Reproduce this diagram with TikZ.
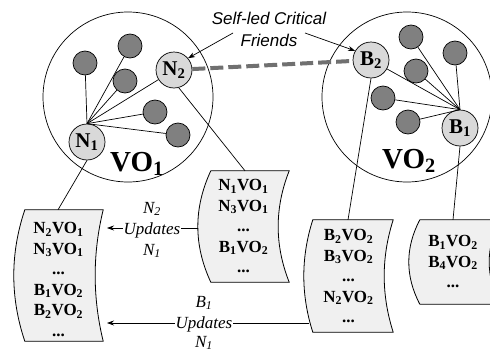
\documentclass[tikz,border=0pt]{standalone}
\usepackage{fontspec}
\setmainfont{Liberation Serif}
\newfontfamily\lsans{Liberation Sans}
\usetikzlibrary{arrows.meta,calc}
\definecolor{nodefill}{HTML}{D9D9D9}
\definecolor{dotfill}{HTML}{808080}
\definecolor{tblfill}{HTML}{F0F0F0}
\definecolor{dashcol}{HTML}{707070}
\newcommand\tblshape[3]{%
 \filldraw[tblline] (#1.north west) -- (#1.north east)
  .. controls ($(#1.north east)!0.333!(#1.south east)+(-#3,0)$) and ($(#1.north east)!0.667!(#1.south east)+(-#3,0)$) .. (#1.south east)
  -- (#1.south west)
  .. controls ($(#1.north west)!0.667!(#1.south west)+(-#2,0)$) and ($(#1.north west)!0.333!(#1.south west)+(-#2,0)$) .. (#1.north west) -- cycle;}
\tikzset{
 vocircle/.style={circle, draw, line width=0.7pt, minimum size=170pt, inner sep=0},
 peer/.style={circle, draw, line width=0.7pt, fill=nodefill, minimum size=36pt, inner sep=0, font=\fontsize{21}{21}\selectfont\bfseries},
 member/.style={circle, draw, line width=0.7pt, fill=dotfill, minimum size=24pt, inner sep=0},
 tie/.style={line width=0.7pt},
 tblline/.style={draw=black, fill=tblfill, line width=0.8pt},
 tbl/.style={draw=none, minimum width=78pt, inner sep=0},
 tbltxt/.style={anchor=north, inner sep=0, align=center, font=\fontsize{17}{20.6}\selectfont\bfseries},
 volbl/.style={anchor=base, inner sep=0, font=\fontsize{29}{29}\selectfont\bfseries},
 itl/.style={anchor=base, inner sep=1pt, fill=white, font=\fontsize{17}{17}\selectfont\itshape},
 arr/.style={line width=0.7pt, -{Stealth[length=7pt,width=5pt]}},
 friend/.style={draw=dashcol, line width=4pt, dash pattern=on 13pt off 5pt},
}
\begin{document}
\begin{tikzpicture}[x=1pt,y=-1pt]
\useasboundingbox (0,0) rectangle (490,351);
\fill[white] (0,0) rectangle (490,351);
% VO circles
\node[vocircle] (C1) at (128,97) {};
\node[vocircle] (C2) at (407,97) {};
% VO1 members
\node[member] (d1) at (85,63) {};
\node[member] (d2) at (130,46) {};
\node[member] (d3) at (125,81) {};
\node[member] (d4) at (155,112) {};
\node[member] (d5) at (178,135) {};
\node[peer] (N1) at (87,142) {N\textsubscript{1}};
\node[peer] (N2) at (174,70) {N\textsubscript{2}};
\foreach \d in {d1,d2,d3,d4,d5} \draw[tie] (N1.north) -- (\d);
\draw[tie] (N1.north) -- (N2);
% VO2 members
\node[member] (e1) at (411,37) {};
\node[member] (e2) at (455,53) {};
\node[member] (e3) at (416,71) {};
\node[member] (e4) at (383,98) {};
\node[member] (e5) at (408,122) {};
\node[peer] (B2) at (371,60) {B\textsubscript{2}};
\node[peer] (B1) at (460,128) {B\textsubscript{1}};
\foreach \d in {e1,e2,e3,e4,e5} \draw[tie] (B1.north) -- (\d);
\draw[tie] (B1.north) -- (B2);
% VO labels
\node[volbl] (L1) at (137,171) {VO\textsubscript{1}};
\node[volbl] (L2) at (409,168) {VO\textsubscript{2}};
% critical friends
\draw[friend] (N2) -- (B2);
\node[anchor=north, inner sep=0, align=center, font=\lsans\itshape\fontsize{17}{22}\selectfont] (SF) at (269,11.6) {Self-led Critical\\Friends};
\coordinate (s1) at (233,33);
\coordinate (s2) at (305,33);
\draw[arr] (s1) -- (N2.40);
\draw[arr] (s2) -- (B2.150);
% tables
\node[tbl, minimum height=131pt] (T1) at (64,275.5) {};
\tblshape{T1}{14.7}{10.7}
\node[tbltxt] (T1t) at (58.5,222) {N\textsubscript{2}VO\textsubscript{1}\\ N\textsubscript{3}VO\textsubscript{1}\\ ...\\ B\textsubscript{1}VO\textsubscript{2}\\ B\textsubscript{2}VO\textsubscript{2}\\ ...};
\node[tbl, minimum height=111pt] (T2) at (250,226.5) {};
\tblshape{T2}{17.3}{14.7}
\node[tbltxt] (T2t) at (243.5,179) {N\textsubscript{1}VO\textsubscript{1}\\ N\textsubscript{3}VO\textsubscript{1}\\ ...\\ B\textsubscript{1}VO\textsubscript{2}\\ ...};
\node[tbl, minimum width=80pt, minimum height=112pt] (T3) at (353,276) {};
\tblshape{T3}{12}{12}
\node[tbltxt] (T3t) at (348.5,229) {B\textsubscript{2}VO\textsubscript{2}\\ B\textsubscript{3}VO\textsubscript{2}\\ ...\\ N\textsubscript{2}VO\textsubscript{2}\\ ...};
\node[tbl, minimum width=80pt, minimum height=84pt] (T4) at (460,262) {};
\tblshape{T4}{14.7}{14.7}
\node[tbltxt] (T4t) at (453,235) {B\textsubscript{1}VO\textsubscript{2}\\ B\textsubscript{4}VO\textsubscript{2}\\ ...};
% links peers to tables
\draw[tie] (N1.south) -- ([xshift=-6pt]T1.north);
\draw[tie] (N2.-75) -- ([xshift=-5pt]T2.north);
\draw[tie] (B2.south) -- ([xshift=-5pt]T3.north);
\draw[tie] (B1.south) -- ([xshift=-7pt]T4.north);
% updates
\coordinate (a1s) at (198,228);
\coordinate (a1e) at (107,228);
\draw[arr] (a1s) -- (a1e);
\node[itl] (u1a) at (152,213) {N\textsubscript{2}};
\node[itl] (u1) at (152,234) {Updates};
\node[itl] (u1b) at (152,255) {N\textsubscript{1}};
\coordinate (a2s) at (309,323);
\coordinate (a2e) at (107,323);
\draw[arr] (a2s) -- (a2e);
\node[itl] (u2a) at (204,307) {B\textsubscript{1}};
\node[itl] (u2) at (204,328) {Updates};
\node[itl] (u2b) at (204,347) {N\textsubscript{1}};
\end{tikzpicture}
\end{document}
